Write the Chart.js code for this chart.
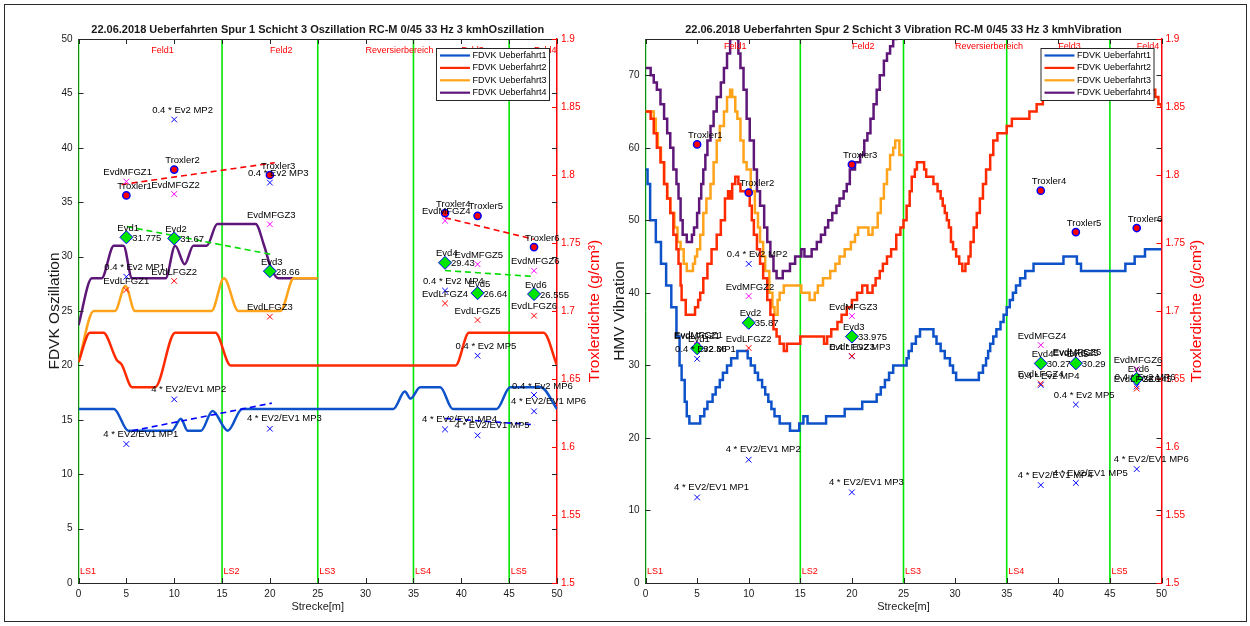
<!DOCTYPE html>
<html><head><meta charset="utf-8">
<script src="https://cdn.jsdelivr.net/npm/chart.js@4.4.1/dist/chart.umd.min.js"></script>
<style>
html,body{margin:0;padding:0;background:#fff;}
#wrap{position:relative;width:1250px;height:626px;overflow:hidden;background:#fff;}
#frame{position:absolute;left:4px;top:4px;width:1241px;height:616px;border:1px solid #2a2a2a;}
canvas{position:absolute;top:0;}
#c1{left:0;}
#c2{left:600px;}
</style></head>
<body>
<div id="wrap"><div id="frame"></div>
<canvas id="c1" width="625" height="626"></canvas>
<canvas id="c2" width="650" height="626"></canvas>
</div>
<script>
// ---------------- DATA ----------------
const SERIES_NAMES = ['FDVK Ueberfahrt1','FDVK Ueberfahrt2','FDVK Ueberfahrt3','FDVK Ueberfahrt4'];
const LEFT_TITLE = '22.06.2018 Ueberfahrten Spur 1 Schicht 3 Oszillation RC-M 0/45 33 Hz 3 kmhOszillation';
const RIGHT_TITLE = '22.06.2018 Ueberfahrten Spur 2 Schicht 3 Vibration RC-M 0/45 33 Hz 3 kmhVibration';
const LEFT_YLABEL = 'FDVK Oszillation';
const RIGHT_YLABEL = 'HMV Vibration';
const DENSITY_LABEL = 'Troxlerdichte (g/cm\u00B3)';
const X_LABEL = 'Strecke[m]';

const LS_X = [0, 15, 25, 35, 45];
const LS_LABELS = ['LS1','LS2','LS3','LS4','LS5'];
const FELD_X = [7.6, 20.0, 30.0, 40.0, 47.6];
const FELD_LABELS = ['Feld1','Feld2','Reversierbereich','Feld3','Feld4'];

const MP_X = [5, 10, 20, 38.3, 41.7, 47.6];
const TROXLER_LABELS = ['Troxler1','Troxler2','Troxler3','Troxler4','Troxler5','Troxler6'];
const EVD_LABELS = ['Evd1','Evd2','Evd3','Evd4','Evd5','Evd6'];
const MFGZ_LABELS = ['EvdMFGZ1','EvdMFGZ2','EvdMFGZ3','EvdMFGZ4','EvdMFGZ5','EvdMFGZ6'];
const LFGZ_LABELS = ['EvdLFGZ1','EvdLFGZ2','EvdLFGZ3','EvdLFGZ4','EvdLFGZ5','EvdLFGZ6'];
const EV2_LABELS = ['0.4 * Ev2 MP1','0.4 * Ev2 MP2','0.4 * Ev2 MP3','0.4 * Ev2 MP4','0.4 * Ev2 MP5','0.4 * Ev2 MP6'];
const EV21_LABELS = ['4 * EV2/EV1 MP1','4 * EV2/EV1 MP2','4 * EV2/EV1 MP3','4 * EV2/EV1 MP4','4 * EV2/EV1 MP5','4 * EV2/EV1 MP6'];

// Left chart (Oszillation) FDVK runs [Strecke, value]
const L_U1 = [[0,16],[3.7,16],[5.2,14],[9.75,14],[10.7,15.1],[11.4,14],[12.8,14],[14.0,15.8],[15.6,14],[17.1,16],[32.9,16],[34.1,17.6],[34.7,16.95],[35.7,18],[37.8,18],[39.1,16],[43.7,16],[45.1,18],[48.3,18],[50,16]];
const L_U2 = [[0,20.3],[1.2,23],[2.6,23],[4.0,20.5],[4.5,20.1],[5.6,18],[8.0,18],[10.1,23],[14.3,23],[15.9,20],[39.4,20],[40.8,23],[48.6,23],[50,20]];
const L_U3 = [[0,20.3],[1.6,25],[3.8,25],[4.9,27.3],[5.9,25],[13.9,25],[15.2,28],[16.7,25],[21.1,25],[22.5,28],[25,28]];
const L_U4 = [[0,23.7],[1.4,28],[2.4,28],[3.7,31],[4.7,31],[5.6,28],[9.1,28],[10.1,31],[11.1,29.3],[12.0,31],[13.4,31],[14.5,33],[18.5,33],[19.4,31],[20.1,29],[20.9,28],[25,28]];

const L_TROXLER = [1.785, 1.804, 1.800, 1.772, 1.770, 1.747];
const L_EVD = [31.775, 31.67, 28.66, 29.43, 26.64, 26.555];
const L_MFGZ = [36.9, 35.75, 32.97, 33.3, 29.3, 28.7];
const L_LFGZ = [26.93, 27.76, 24.48, 25.7, 24.17, 24.57];
const L_EV2 = [28.15, 42.6, 36.8, 26.87, 20.89, 17.28];
const L_EV21 = [12.77, 16.88, 14.18, 14.12, 13.57, 15.78];

const L_TROX_TREND_A = [[4.5,1.793],[20.5,1.809]];
const L_TROX_TREND_B = [[38.3,1.7686],[47.6,1.7527]];
const L_EVD_TREND_A = [[5.05,32.76],[20.2,30.19]];
const L_EVD_TREND_B = [[38.3,28.72],[47.6,28.17]];
const L_EV21_TREND_A = [[5.6,13.99],[20.2,16.53]];
const L_EV21_TREND_B = [[38.3,15.12],[47.7,14.54]];

// Right chart (Vibration) HMV runs, stepped [start of level, level]
const R_U1 = [[0,57],[0.2,55],[0.45,50],[1.0,47],[1.5,44],[2.0,41],[2.5,38],[3.0,34],[3.3,30],[3.5,28],[3.8,25],[4.0,23],[4.25,22],[5.3,23],[5.7,24],[6.0,25],[6.5,26],[6.8,27],[7.2,28],[7.5,29],[7.9,30],[8.3,31],[8.9,32],[9.9,31],[10.2,30],[10.6,29],[10.9,28],[11.3,27],[11.6,26],[11.9,25],[12.2,24],[12.5,23],[13.0,22],[14.0,21],[14.9,22],[15.3,23],[15.7,22],[17.5,23],[19.3,24],[21.0,25],[22.4,26],[22.8,27],[23.2,28],[23.6,29],[24.0,30],[25.3,31],[25.5,32],[25.8,33],[26.2,34],[26.6,35],[27.9,34],[28.2,33],[28.6,32],[29.0,31],[29.5,30],[29.8,29],[30.1,28],[32.3,29],[32.7,30],[33.0,31],[33.2,32],[33.4,33],[33.7,34],[34.0,35],[34.4,36],[34.7,37],[35.0,38],[35.3,39],[35.6,40],[35.9,41],[36.3,42],[36.8,43],[37.6,44],[40.5,45],[41.8,44],[42.2,43],[46.5,44],[47.4,45],[48.4,46],[50,46]];
const R_U2 = [[0,65],[0.5,64],[0.8,62],[1.1,60],[1.45,58],[1.8,55],[2.1,53],[2.4,51],[2.7,48],[3.0,46],[3.2,44],[3.4,41],[3.5,39],[3.9,37],[4.8,38],[5.1,39],[5.3,40],[5.6,42],[6.0,44],[6.4,46],[6.9,48],[7.3,50],[7.7,53],[8.0,54],[8.2,53],[8.4,55],[8.7,56],[9.0,55],[9.2,54],[10.1,52],[10.3,50],[10.5,48],[10.8,46],[11.1,44],[11.4,42],[11.8,39],[12.1,37],[12.4,35],[12.7,34],[13.0,33],[13.4,32],[13.7,33],[15.0,34],[17.3,33],[17.6,34],[18.0,35],[18.6,36],[19.0,37],[19.5,38],[20.0,39],[20.5,40],[21.0,41],[21.5,40],[22.0,41],[22.3,42],[22.7,43],[23.0,44],[23.4,45],[23.8,46],[24.3,48],[24.7,49],[25.0,50],[25.3,52],[25.6,54],[25.8,56],[26.1,57],[26.3,58],[27.0,57],[27.2,56],[27.9,55],[28.3,54],[28.6,53],[28.8,52],[29.0,51],[29.2,50],[29.4,49],[29.6,47],[29.8,46],[30.1,45],[30.4,44],[30.7,43],[31.0,44],[31.3,45],[31.5,47],[31.8,49],[32.1,51],[32.4,53],[32.7,55],[33.0,57],[33.4,59],[33.7,61],[34.1,62],[35.0,63],[35.5,64],[37.2,65],[37.9,66],[38.5,67],[39.5,68],[49.4,67],[49.7,66],[50,65.5]];
const R_U3 = [[0,65],[0.8,64],[1.0,62],[1.2,60],[1.5,58],[1.8,55],[2.1,53],[2.4,51],[2.8,49],[3.1,47],[3.4,46],[3.7,44],[4.0,43],[4.6,44],[4.8,45],[5.0,46],[5.3,48],[5.6,51],[5.9,53],[6.3,55],[6.6,58],[6.9,61],[7.2,63],[7.6,65],[7.9,67],[8.2,68],[8.4,67],[8.7,65],[8.9,64],[9.2,61],[9.5,58],[9.8,57],[10.2,54],[10.6,51],[10.9,49],[11.1,47],[11.4,45],[11.6,43],[12.0,40],[12.3,38],[12.5,37],[12.8,39],[13.0,40],[13.4,41],[15.1,40],[15.9,39],[16.4,40],[16.7,41],[17.2,42],[17.9,43],[18.4,44],[18.8,45],[19.3,46],[19.9,47],[20.3,48],[20.6,49],[21.6,48],[22.0,49],[22.5,51],[22.8,53],[23.1,55],[23.4,57],[23.7,59],[24.0,60],[24.2,61],[24.6,59],[25,59]];
const R_U4 = [[0,71],[0.5,70],[0.8,69],[1.1,68],[1.45,66],[1.8,64],[2.1,62],[2.4,60],[2.7,57],[3.0,55],[3.2,53],[3.4,50],[3.6,48],[4.0,47],[4.5,48],[4.7,49],[5.0,51],[5.2,53],[5.4,55],[5.6,57],[5.8,59],[6.0,61],[6.3,63],[6.6,65],[6.9,67],[7.3,69],[7.6,71],[7.9,73],[8.2,75],[8.4,76],[8.9,75],[9.0,73],[9.2,71],[9.5,68],[9.8,64],[10.1,61],[10.5,57],[10.8,54],[11.1,52],[11.5,49],[11.8,47],[12.1,45],[12.4,43],[12.7,42],[13.3,43],[14.0,44],[14.5,45],[15.1,46],[15.4,45],[16.1,46],[16.6,47],[17.0,48],[17.4,49],[17.7,50],[18.1,51],[18.5,52],[18.8,53],[19.2,54],[19.5,55],[19.8,57],[20.3,58],[20.8,59],[21.2,61],[21.5,62],[21.8,64],[22.1,66],[22.4,68],[22.7,70],[23.1,72],[23.4,73],[23.7,74],[24.0,75],[24.3,77],[25,78]];

const R_TROXLER = [1.8225, 1.787, 1.8077, 1.7885, 1.758, 1.761];
const R_EVD = [32.36, 35.87, 33.975, 30.27, 30.29, 28.145];
const R_MFGZ = [32.9, 39.56, 36.8, 32.8, 30.5, 29.5];
const R_LFGZ = [32.7, 32.4, 31.3, 27.5, 30.4, 26.8];
const R_EV2 = [30.9, 44.0, 31.25, 27.3, 24.6, 27.1];
const R_EV21 = [11.8, 17.0, 12.5, 13.5, 13.8, 15.7];

// ---------------- RENDERING ----------------
const FONT = '"Liberation Sans", Arial, Helvetica, sans-serif';
const COLORS = ['#0d52c9', '#ff2a00', '#ffa31a', '#5e1779'];
const INK = '#1a1a1a';

const pts = a => a.map(p => ({x: p[0], y: p[1]}));
const ptsXY = (xs, ys) => xs.map((x, i) => ({x, y: ys[i]}));

function runDS(label, data, color, stepped) {
  const ds = {label, data: pts(data), borderColor: color, backgroundColor: color,
    borderWidth: 2.5, pointRadius: 0, order: 2, yAxisID: 'y', fill: false};
  if (stepped) { ds.stepped = true; ds.tension = 0; }
  else { ds.cubicInterpolationMode = 'monotone'; }
  return ds;
}
function markerDS(label, ys, axis, style, radius, fill, stroke, bw) {
  return {label, data: ptsXY(MP_X, ys), yAxisID: axis, showLine: false, pointStyle: style,
    pointRadius: radius, pointHoverRadius: radius, pointBackgroundColor: fill,
    pointBorderColor: stroke, pointBorderWidth: bw, borderColor: stroke, backgroundColor: fill, order: 0};
}
function dashDS(data, axis, color) {
  return {label: 'trend', data: pts(data), yAxisID: axis, borderColor: color, borderWidth: 1.6,
    borderDash: [6, 4], pointRadius: 0, order: 1, fill: false};
}
function lsDS(yMax) {
  return LS_X.map(x => ({label: 'LS', data: [{x, y: 0}, {x, y: yMax}], yAxisID: 'y',
    borderColor: '#00e600', borderWidth: 1.6, pointRadius: 0, order: 3, fill: false}));
}

function overlay(spec) {
  return {
    id: 'overlay',
    afterDraw(chart) {
      const ctx = chart.ctx, ca = chart.chartArea;
      const sx = chart.scales.x, sy = chart.scales.y, sy2 = chart.scales.y2;
      ctx.save();
      ctx.strokeStyle = '#262626'; ctx.lineWidth = 1;
      ctx.beginPath(); ctx.moveTo(ca.left, ca.top + 0.5); ctx.lineTo(ca.right, ca.top + 0.5); ctx.stroke();
      ctx.beginPath();
      sx.ticks.forEach(t => {
        const px = Math.round(sx.getPixelForValue(t.value)) + 0.5;
        ctx.moveTo(px, ca.bottom); ctx.lineTo(px, ca.bottom - 5);
        ctx.moveTo(px, ca.top); ctx.lineTo(px, ca.top + 5);
      });
      sy.ticks.forEach(t => {
        const py = Math.round(sy.getPixelForValue(t.value)) + 0.5;
        ctx.moveTo(ca.left, py); ctx.lineTo(ca.left + 5, py);
        ctx.moveTo(ca.right, py); ctx.lineTo(ca.right - 5, py);
      });
      ctx.stroke();
      ctx.strokeStyle = '#ff0000';
      ctx.beginPath();
      sy2.ticks.forEach(t => {
        const py = Math.round(sy2.getPixelForValue(t.value)) + 0.5;
        ctx.moveTo(ca.right, py); ctx.lineTo(ca.right - 5, py);
      });
      ctx.stroke();

      ctx.fillStyle = INK; ctx.textBaseline = 'middle'; ctx.textAlign = 'center';
      ctx.font = 'bold 11px ' + FONT;
      ctx.fillText(spec.title, (ca.left + ca.right) / 2, 30);
      ctx.font = '11px ' + FONT;
      ctx.fillText(X_LABEL, (ca.left + ca.right) / 2, 607);
      const vtext = (text, x, color) => {
        ctx.save(); ctx.translate(x, (ca.top + ca.bottom) / 2); ctx.rotate(-Math.PI / 2);
        ctx.fillStyle = color; ctx.font = '15.5px ' + FONT; ctx.textAlign = 'center'; ctx.textBaseline = 'middle';
        ctx.fillText(text, 0, 0); ctx.restore();
      };
      vtext(spec.ylabel, spec.ylabelX, INK);
      vtext(DENSITY_LABEL, spec.y2labelX, '#ff0000');

      ctx.fillStyle = '#ff0000'; ctx.font = '9px ' + FONT; ctx.textAlign = 'left'; ctx.textBaseline = 'middle';
      FELD_X.forEach((x, i) => ctx.fillText(FELD_LABELS[i], sx.getPixelForValue(x), spec.feldY));
      LS_X.forEach((x, i) => ctx.fillText(LS_LABELS[i], sx.getPixelForValue(x) + 1.5, ca.bottom - 11));

      ctx.fillStyle = '#000'; ctx.font = '9.5px ' + FONT;
      spec.labels.forEach(g => {
        const scale = chart.scales[g.axis];
        MP_X.forEach((x, i) => {
          const px = sx.getPixelForValue(x), py = scale.getPixelForValue(g.ys[i]);
          ctx.fillText(g.texts[i], px + g.dx, py + g.dy);
        });
      });

      const w = 113, h = 52, lx = ca.right - 8 - w, ly = 48;
      ctx.fillStyle = '#fff'; ctx.fillRect(lx, ly, w, h);
      ctx.strokeStyle = '#262626'; ctx.lineWidth = 1;
      ctx.strokeRect(lx + 0.5, ly + 0.5, w, h);
      ctx.font = '9px ' + FONT; ctx.textAlign = 'left'; ctx.textBaseline = 'middle';
      SERIES_NAMES.forEach((name, i) => {
        const yy = ly + 7.5 + i * 12.4;
        ctx.strokeStyle = COLORS[i]; ctx.lineWidth = 2.2;
        ctx.beginPath(); ctx.moveTo(lx + 4, yy); ctx.lineTo(lx + 34, yy); ctx.stroke();
        ctx.fillStyle = '#000'; ctx.fillText(name, lx + 36.5, yy);
      });
      ctx.restore();
    }
  };
}

function buildChart(id, spec) {
  const datasets = [];
  datasets.push(markerDS('Troxler', spec.troxler, 'y2', 'circle', 3.6, '#ff0000', '#0000ff', 1.5));
  datasets.push(markerDS('Evd', spec.evd, 'y', 'rectRot', 6.5, '#00e600', '#0000ff', 1));
  datasets.push(markerDS('EvdMFGZ', spec.mfgz, 'y', 'crossRot', 4, '#ff00ff', '#ff00ff', 1));
  datasets.push(markerDS('EvdLFGZ', spec.lfgz, 'y', 'crossRot', 4, '#ff0000', '#ff0000', 1));
  datasets.push(markerDS('Ev2', spec.ev2, 'y', 'crossRot', 4, '#0000ff', '#0000ff', 1));
  datasets.push(markerDS('EV2/EV1', spec.ev21, 'y', 'crossRot', 4, '#0000ff', '#0000ff', 1));
  spec.trends.forEach(t => datasets.push(dashDS(t[0], t[1], t[2])));
  spec.runs.forEach((r, i) => datasets.push(runDS(SERIES_NAMES[i], r, COLORS[i], spec.stepped)));
  lsDS(spec.yMax).forEach(d => datasets.push(d));

  const tickFont = {size: 10, family: FONT};
  return new Chart(document.getElementById(id), {
    type: 'line',
    data: {datasets},
    options: {
      responsive: false, animation: false, events: [],
      layout: {padding: {left: spec.padL, right: spec.padR, top: 39, bottom: 23}},
      plugins: {legend: {display: false}, tooltip: {enabled: false}, title: {display: false}},
      scales: {
        x: {type: 'linear', min: 0, max: 50,
          ticks: {stepSize: 5, padding: 5, color: INK, font: tickFont, maxRotation: 0, autoSkip: false},
          grid: {display: false, drawTicks: false},
          border: {display: true, color: '#262626', width: 1},
          afterFit(s) { s.height = 20; }},
        y: {type: 'linear', position: 'left', min: 0, max: spec.yMax,
          ticks: {stepSize: spec.yStep, padding: 6, color: INK, font: tickFont, autoSkip: false},
          grid: {display: false, drawTicks: false},
          border: {display: true, color: '#262626', width: 1},
          afterBuildTicks(s) { s.ticks = s.ticks.filter(t => Math.abs(t.value / spec.yStep - Math.round(t.value / spec.yStep)) < 1e-6); },
          afterFit(s) { s.width = 30; }},
        y2: {type: 'linear', position: 'right', min: 1.5, max: 1.9,
          ticks: {stepSize: 0.05, padding: 4, color: '#ff0000', font: tickFont, autoSkip: false,
            callback: v => String(+(+v).toFixed(2))},
          grid: {display: false, drawTicks: false},
          border: {display: true, color: '#ff0000', width: 1.5},
          afterFit(s) { s.width = 30; }}
      }
    },
    plugins: [overlay(spec)]
  });
}

function labelGroups(trox, evd, mfgz, lfgz, ev2, ev21) {
  return [
    {axis: 'y2', ys: trox, texts: TROXLER_LABELS, dx: -9, dy: -9},
    {axis: 'y', ys: evd, texts: EVD_LABELS, dx: -9, dy: -9},
    {axis: 'y', ys: evd, texts: evd.map(v => String(v)), dx: 6, dy: 1},
    {axis: 'y', ys: mfgz, texts: MFGZ_LABELS, dx: -23, dy: -9},
    {axis: 'y', ys: lfgz, texts: LFGZ_LABELS, dx: -23, dy: -9},
    {axis: 'y', ys: ev2, texts: EV2_LABELS, dx: -22, dy: -9},
    {axis: 'y', ys: ev21, texts: EV21_LABELS, dx: -23, dy: -10}
  ];
}

buildChart('c1', {
  title: LEFT_TITLE, ylabel: LEFT_YLABEL, ylabelX: 55, y2labelX: 595, feldY: 50.7,
  padL: 48.5, padR: 38, yMax: 50, yStep: 5, stepped: false,
  runs: [L_U1, L_U2, L_U3, L_U4],
  troxler: L_TROXLER, evd: L_EVD, mfgz: L_MFGZ, lfgz: L_LFGZ, ev2: L_EV2, ev21: L_EV21,
  trends: [[L_TROX_TREND_A, 'y2', '#ff0000'], [L_TROX_TREND_B, 'y2', '#ff0000'],
           [L_EVD_TREND_A, 'y', '#00dd00'], [L_EVD_TREND_B, 'y', '#00dd00'],
           [L_EV21_TREND_A, 'y', '#0000ff'], [L_EV21_TREND_B, 'y', '#0000ff']],
  labels: labelGroups(L_TROXLER, L_EVD, L_MFGZ, L_LFGZ, L_EV2, L_EV21)
});

buildChart('c2', {
  title: RIGHT_TITLE, ylabel: RIGHT_YLABEL, ylabelX: 20, y2labelX: 597, feldY: 47,
  padL: 15.5, padR: 58.5, yMax: 75, yStep: 10, stepped: true,
  runs: [R_U1, R_U2, R_U3, R_U4],
  troxler: R_TROXLER, evd: R_EVD, mfgz: R_MFGZ, lfgz: R_LFGZ, ev2: R_EV2, ev21: R_EV21,
  trends: [],
  labels: labelGroups(R_TROXLER, R_EVD, R_MFGZ, R_LFGZ, R_EV2, R_EV21)
});
</script>
</body></html>
